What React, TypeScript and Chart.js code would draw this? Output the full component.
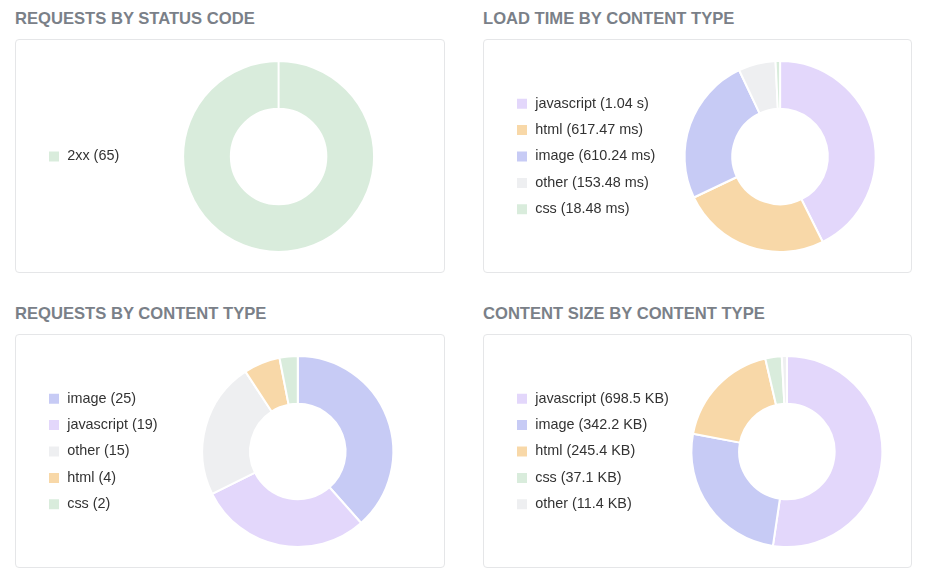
import React, { useEffect, useRef } from "react";
import { Chart, registerables } from "chart.js";

Chart.register(...registerables);

// ---- data ----
const statusLabels = ["2xx"];
const statusCounts = [65];
const statusColors = ["#d9ecdc"];

const loadLabels = ["javascript", "html", "image", "other", "css"];
const loadTimesMs = [1040, 617.47, 610.24, 153.48, 18.48];
const loadColors = ["#e3d7fb", "#f8d8a8", "#c7cbf5", "#eeeff1", "#d9ecdc"];

const reqLabels = ["image", "javascript", "other", "html", "css"];
const reqCounts = [25, 19, 15, 4, 2];
const reqColors = ["#c7cbf5", "#e3d7fb", "#eeeff1", "#f8d8a8", "#d9ecdc"];

const sizeLabels = ["javascript", "image", "html", "css", "other"];
const sizeKB = [698.5, 342.2, 245.4, 37.1, 11.4];
const sizeColors = ["#e3d7fb", "#c7cbf5", "#f8d8a8", "#d9ecdc", "#eeeff1"];

const titles = [
  "REQUESTS BY STATUS CODE",
  "LOAD TIME BY CONTENT TYPE",
  "REQUESTS BY CONTENT TYPE",
  "CONTENT SIZE BY CONTENT TYPE",
];

const fmtCount = (v: number) => String(v);
const fmtMs = (v: number) => (v >= 1000 ? (v / 1000).toFixed(2) + " s" : v.toFixed(2) + " ms");
const fmtKB = (v: number) => v.toFixed(1) + " KB";

const FONT = "'Liberation Sans', Arial, Helvetica, sans-serif";

type DonutProps = {
  labels: string[];
  values: number[];
  colors: string[];
  fmt: (v: number) => string;
  width: number;
  height: number;
};

function Donut({ labels, values, colors, fmt, width, height }: DonutProps) {
  const ref = useRef<HTMLCanvasElement>(null);
  useEffect(() => {
    const chart = new Chart(ref.current!, {
      type: "doughnut",
      data: {
        labels,
        datasets: [
          {
            data: values,
            backgroundColor: colors,
            borderColor: "#ffffff",
            borderWidth: 2,
          },
        ],
      },
      options: {
        animation: false,
        responsive: false,
        maintainAspectRatio: false,
        cutout: "50%",
        plugins: {
          tooltip: { enabled: false },
          legend: {
            position: "left",
            align: "center",
            labels: {
              boxWidth: 12,
              boxHeight: 12,
              padding: 12,
              color: "#333333",
              font: { family: FONT, size: 14.4 },
              generateLabels: (c: any) => {
                const base = (Chart as any).overrides.doughnut.plugins.legend.labels.generateLabels(c);
                return base.map((it: any, i: number) => ({
                  ...it,
                  text: `${labels[i]} (${fmt(values[i])})`,
                }));
              },
            },
          },
        },
      },
    });
    return () => chart.destroy();
  }, []);
  return <canvas ref={ref} width={width} height={height} style={{ display: "block", width, height }} />;
}

type PanelProps = {
  x: number;
  y: number;
  w: number;
  title: string;
  labels: string[];
  values: number[];
  colors: string[];
  fmt: (v: number) => string;
};

function Panel({ x, y, w, title, labels, values, colors, fmt }: PanelProps) {
  const cardH = 234;
  const padL = 20,
    padR = 16,
    padT = 20,
    padB = 19;
  const cw = w - 2 - padL - padR;
  const ch = cardH - 2 - padT - padB;
  return (
    <>
      <div
        style={{
          position: "absolute",
          left: x,
          top: y + 9,
          fontFamily: FONT,
          fontWeight: 700,
          fontSize: 16.6,
          lineHeight: "20px",
          color: "#7a8088",
          whiteSpace: "nowrap",
        }}
      >
        {title}
      </div>
      <div
        style={{
          position: "absolute",
          left: x,
          top: y + 39,
          width: w,
          height: cardH,
          boxSizing: "border-box",
          border: "1px solid #e5e6e8",
          borderRadius: 4,
          padding: `${padT}px ${padR}px ${padB}px ${padL}px`,
          background: "#fff",
        }}
      >
        <Donut labels={labels} values={values} colors={colors} fmt={fmt} width={cw} height={ch} />
      </div>
    </>
  );
}

export default function App() {
  return (
    <div style={{ position: "relative", width: 930, height: 587 }}>
      <div style={{ position: "absolute", left: -8, top: -8, width: 930, height: 587 }}>
        <Panel x={15} y={0} w={430} title={titles[0]} labels={statusLabels} values={statusCounts} colors={statusColors} fmt={fmtCount} />
        <Panel x={483} y={0} w={429} title={titles[1]} labels={loadLabels} values={loadTimesMs} colors={loadColors} fmt={fmtMs} />
        <Panel x={15} y={295} w={430} title={titles[2]} labels={reqLabels} values={reqCounts} colors={reqColors} fmt={fmtCount} />
        <Panel x={483} y={295} w={429} title={titles[3]} labels={sizeLabels} values={sizeKB} colors={sizeColors} fmt={fmtKB} />
      </div>
    </div>
  );
}
